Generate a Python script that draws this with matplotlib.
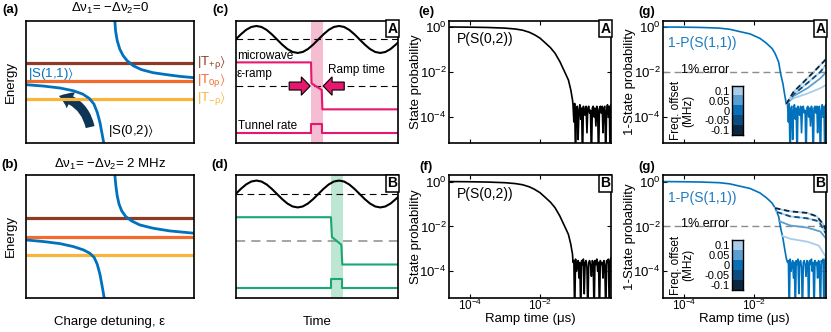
import numpy as np
import matplotlib.pyplot as plt
from matplotlib.colors import ListedColormap
from matplotlib.patches import FancyArrowPatch, FancyArrow
from matplotlib.ticker import NullLocator

plt.rcParams['font.family'] = ['Liberation Sans', 'DejaVu Sans']
plt.rcParams['mathtext.default'] = 'regular'
plt.rcParams['font.size'] = 9
plt.rcParams['axes.linewidth'] = 1.2

# colours
c_blue = '#0072BD'
c_brown = '#8E3B26'
c_orange = '#F26A2C'
c_yellow = '#F9B43A'
c_mag = '#E6176E'
c_pink = '#F6BDD2'
c_green = '#17A873'
c_lgreen = '#BDE6D3'
offset_colors = ['#a9cde8', '#5b9fd1', '#0b6fb5', '#0c4c80', '#0b2740']
offset_labels = ['0.1', '0.05', '0', '-0.05', '-0.1']

# ---- (a),(b) energy levels (box fraction units)
levels_a = [0.652, 0.505, 0.359]
levels_b = [0.648, 0.499, 0.351]
a_up_x = [0.529, 0.533, 0.543, 0.558, 0.578, 0.602, 0.638, 0.687, 0.756, 0.836, 0.915, 1.0]
a_up_y = [1.0, 0.918, 0.837, 0.769, 0.715, 0.674, 0.633, 0.601, 0.576, 0.560, 0.546, 0.535]
a_lo_x = [0.0, 0.103, 0.202, 0.281, 0.337, 0.376, 0.404, 0.424, 0.44, 0.453, 0.463]
a_lo_y = [0.478, 0.467, 0.451, 0.429, 0.402, 0.367, 0.321, 0.253, 0.171, 0.076, 0.0]
b_up_x = [0.529, 0.535, 0.543, 0.554, 0.570, 0.594, 0.628, 0.677, 0.756, 0.855, 1.0]
b_up_y = [1.0, 0.913, 0.831, 0.763, 0.708, 0.662, 0.627, 0.594, 0.567, 0.545, 0.526]
b_lo_x = [0.0, 0.103, 0.202, 0.281, 0.341, 0.38, 0.406, 0.424, 0.44, 0.453, 0.465]
b_lo_y = [0.471, 0.458, 0.441, 0.417, 0.39, 0.362, 0.327, 0.272, 0.191, 0.095, 0.0]

# ---- (c),(d) pulse sketches
sine_x = [0, 0.032, 0.064, 0.096, 0.128, 0.159, 0.191, 0.223, 0.255, 0.287, 0.319,
          0.351, 0.383, 0.414, 0.446, 0.478, 0.51, 0.542, 0.574, 0.606, 0.638, 0.669,
          0.701, 0.733, 0.765, 0.797, 0.829, 0.861, 0.893, 0.924, 0.956, 0.988, 1.0]
sine_y = [0.847, 0.889, 0.925, 0.949, 0.957, 0.949, 0.925, 0.889, 0.847, 0.805, 0.769,
          0.745, 0.737, 0.745, 0.769, 0.805, 0.847, 0.889, 0.925, 0.949, 0.957, 0.949,
          0.925, 0.889, 0.847, 0.805, 0.769, 0.745, 0.737, 0.745, 0.769, 0.805, 0.82]
c_band = [0.465, 0.537]
c_eps_x = [0, 0.465, 0.468, 0.531, 0.535, 1.0]
c_eps_y = [0.66, 0.66, 0.489, 0.435, 0.277, 0.277]
c_tun_x = [0, 0.465, 0.465, 0.535, 0.535, 1.0]
c_tun_y = [0.082, 0.082, 0.158, 0.158, 0.082, 0.082]
d_band = [0.588, 0.665]
d_eps_x = [0, 0.588, 0.594, 0.652, 0.658, 1.0]
d_eps_y = [0.657, 0.657, 0.495, 0.432, 0.27, 0.27]
d_tun_x = [0, 0.588, 0.588, 0.658, 0.658, 1.0]
d_tun_y = [0.076, 0.076, 0.151, 0.151, 0.076, 0.076]

# ---- (e),(f) P(S(0,2)) vs ramp time (us)
ramp_e = [2.5e-5, 1e-4, 3.2e-4, 1e-3, 2e-3, 3.2e-3, 5e-3, 7e-3, 1e-2, 1.4e-2,
          2e-2, 2.7e-2, 3.7e-2, 5.1e-2, 6.5e-2, 7.6e-2, 8.5e-2]
p_s02 = [1.0, 0.98, 0.95, 0.89, 0.81, 0.72, 0.58, 0.45, 0.32, 0.2,
         0.12, 0.068, 0.029, 0.01, 4.4e-3, 1.6e-3, 5.8e-4]
tail_t = [0.088, 0.093, 0.098, 0.104, 0.11, 0.116, 0.123, 0.13, 0.138, 0.146,
          0.155, 0.164, 0.174, 0.184, 0.195, 0.207, 0.22, 0.233, 0.247, 0.262,
          0.278, 0.295, 0.313, 0.332, 0.352, 0.373, 0.396, 0.42, 0.445, 0.472,
          0.5, 0.53, 0.56, 0.6, 0.63, 0.67, 0.71, 0.76, 0.8, 0.85,
          0.9, 0.96, 1.01, 1.07]
tail_e = [3.5e-4, 6e-5, 4e-4, 1e-6, 2.5e-4, 3e-4, 1e-5, 2e-4, 3.5e-4, 8e-5,
          2.5e-4, 1e-6, 3e-4, 2e-4, 1.2e-4, 3e-4, 2e-5, 2.5e-4, 3e-4, 1.5e-4,
          2e-4, 1e-6, 2.5e-4, 3e-4, 1e-4, 2.5e-4, 4e-5, 3e-4, 2e-4, 1e-6,
          2.5e-4, 3e-4, 1.5e-4, 3e-4, 2e-5, 2.5e-4, 3e-4, 1e-6, 2e-4, 3.5e-4,
          1e-4, 3e-4, 1e-6, 3.5e-4]
tail_f = [2.5e-4, 3e-4, 1e-6, 3.5e-4, 1e-4, 2e-4, 3e-4, 5e-5, 2.5e-4, 1e-6,
          3e-4, 2e-4, 3.5e-4, 1e-5, 2.5e-4, 3e-4, 1.5e-4, 1e-6, 2.5e-4, 3e-4,
          2e-4, 6e-5, 3e-4, 2.5e-4, 1e-6, 3e-4, 2e-4, 3.5e-4, 1e-4, 2.5e-4,
          1e-6, 3e-4, 2e-4, 2.5e-4, 5e-5, 3e-4, 2e-4, 1e-6, 3e-4, 2.5e-4,
          3.5e-4, 1e-6, 3e-4, 4e-4]

# ---- (g) 1-P(S(1,1)) vs ramp time, with frequency offsets
ramp_g = [2.5e-5, 1e-4, 3.2e-4, 1e-3, 2e-3, 3.9e-3, 7.6e-3, 1.45e-2, 2.2e-2, 3.2e-2,
          3.9e-2, 4.9e-2, 5.6e-2, 6.5e-2, 7.2e-2, 8.1e-2]
p_s11 = [1.0, 0.98, 0.95, 0.89, 0.79, 0.62, 0.49, 0.31, 0.19, 0.11,
         0.066, 0.028, 8.3e-3, 3e-3, 1.1e-3, 3.8e-4]
# case A
ga_t = [0.081, 0.13, 0.32, 0.75, 1.07]
ga_1 = [3.8e-4, 1.3e-3, 5.2e-3, 2e-2, 3.6e-2]
ga_2 = [3.8e-4, 1e-3, 3.2e-3, 1e-2, 2e-2]
ga_3 = [3.8e-4, 8.5e-4, 1.9e-3, 5.2e-3, 9.3e-3]
ga_4 = [3.8e-4, 6.8e-4, 1.1e-3, 1.9e-3, 2.6e-3]
# case B
gb_1t = [0.039, 0.055, 0.105, 0.316, 0.6, 0.93, 1.07]
gb_1 = [0.066, 0.058, 0.047, 0.04, 0.028, 0.012, 7e-3]
gb_2t = [0.044, 0.105, 0.316, 0.68, 1.07]
gb_2 = [0.044, 0.028, 0.023, 0.017, 5e-3]
gb_3t = [0.052, 0.105, 0.316, 0.76, 1.07]
gb_3 = [0.017, 0.011, 8.9e-3, 5.9e-3, 3e-3]
gb_4t = [0.062, 0.105, 0.316, 0.68, 1.07]
gb_4 = [3.8e-3, 2.8e-3, 2.1e-3, 1.4e-3, 4.5e-4]

fig = plt.figure(figsize=(8.31, 3.32), dpi=100)


def rect(x0, y0, x1, y1):
    return [x0 / 831, 1 - y1 / 332, (x1 - x0) / 831, (y1 - y0) / 332]


def ftext(px, py, s, **kw):
    fig.text(px / 831, 1 - py / 332, s, ha='center', va='center', **kw)


def box_label(ax, s):
    ax.text(0.997, 0.993, s, transform=ax.transAxes, ha='right', va='top',
            fontsize=10, fontweight='bold', zorder=10,
            bbox=dict(boxstyle='square,pad=0.1', fc='white', ec='black', lw=1.1))


def plain(ax):
    ax.set_xlim(0, 1)
    ax.set_ylim(0, 1)
    ax.set_xticks([])
    ax.set_yticks([])


ax_a = fig.add_axes(rect(26, 20.7, 194, 143.3))
ax_b = fig.add_axes(rect(26, 175.3, 194, 297.5))
ax_c = fig.add_axes(rect(235.7, 20.7, 397.7, 143.3))
ax_d = fig.add_axes(rect(235.7, 175.3, 397.7, 297.5))
ax_e = fig.add_axes(rect(449.3, 20.7, 611, 143.3))
ax_f = fig.add_axes(rect(449.3, 175.3, 611, 297.5))
ax_g1 = fig.add_axes(rect(663.3, 20.7, 825.7, 143.3))
ax_g2 = fig.add_axes(rect(663.3, 175.3, 825.7, 297.5))

# (a) and (b)
for ax, lev, ux, uy, lx, ly in [(ax_a, levels_a, a_up_x, a_up_y, a_lo_x, a_lo_y),
                                (ax_b, levels_b, b_up_x, b_up_y, b_lo_x, b_lo_y)]:
    for l, col in zip(lev, [c_brown, c_orange, c_yellow]):
        ax.plot([0, 1], [l, l], color=col, lw=2.3, solid_capstyle='butt')
    ax.plot(ux, uy, color=c_blue, lw=2)
    ax.plot(lx, ly, color=c_blue, lw=2)
    plain(ax)
    ax.set_ylabel('Energy', fontsize=9.5)
    ax.yaxis.set_label_coords(-0.055, 0.5)

ax_a.add_patch(FancyArrowPatch((0.385, 0.11), (0.18, 0.39), connectionstyle='arc3,rad=0.35',
                               arrowstyle='simple,head_length=0.7,head_width=1.0,tail_width=0.5',
                               mutation_scale=13, color='#0e3555', lw=0))
ax_a.text(0.014, 0.571, r'|S(1,1)$\rangle$', color=c_blue, va='center', fontsize=9.5)
ax_a.text(0.489, 0.103, r'|S(0,2)$\rangle$', color='k', va='center', fontsize=9.5)
for l, col, s in zip(levels_a, [c_brown, c_orange, c_yellow],
                     [r'|T$_{+\rho}\rangle$', r'|T$_{0\rho}\rangle$', r'|T$_{-\rho}\rangle$']):
    ax_a.text(1.016, l, s, color=col, va='center', ha='left', fontsize=9.5)
ax_b.set_xlabel('Charge detuning, ε', fontsize=9.5)
ax_b.xaxis.set_label_coords(0.5, -0.2)
ax_b.xaxis.label.set_va('center')
ftext(110, 8, r'Δν$_1$= −Δν$_2$=0', fontsize=9.5)
ftext(110, 164, r'Δν$_1$= −Δν$_2$= 2 MHz', fontsize=9.5)

# (c) and (d)
for ax, band, bcol, col, ex, ey, tx, ty, mid, mcol in [
        (ax_c, c_band, c_pink, c_mag, c_eps_x, c_eps_y, c_tun_x, c_tun_y, 0.467, 'k'),
        (ax_d, d_band, c_lgreen, c_green, d_eps_x, d_eps_y, d_tun_x, d_tun_y, 0.459, '#8c8c8c')]:
    ax.axvspan(band[0], band[1], color=bcol, lw=0)
    ax.axhline(0.847, color='k', ls=(0, (6, 4)), lw=0.8)
    ax.axhline(mid, color=mcol, ls=(0, (6, 4)), lw=0.8 if mcol == 'k' else 1.1)
    ax.plot(sine_x, sine_y, color='k', lw=1.5)
    ax.plot(ex, ey, color=col, lw=1.5)
    ax.plot(tx, ty, color=col, lw=1.5)
    plain(ax)

ax_c.text(0.006, 0.712, 'microwave', va='center', fontsize=8.5)
ax_c.text(0.006, 0.565, 'ε-ramp', va='center', fontsize=8.5)
ax_c.text(0.743, 0.598, 'Ramp time', va='center', ha='center', fontsize=8.5)
ax_c.text(0.012, 0.141, 'Tunnel rate', va='center', fontsize=8.5)
for x0, dx in [(0.33, 0.13), (0.67, -0.13)]:
    ax_c.add_patch(FancyArrow(x0, 0.467, dx, 0, width=0.065, head_width=0.15,
                              head_length=0.055, length_includes_head=True,
                              fc=c_mag, ec='k', lw=0.8, zorder=5))
box_label(ax_c, 'A')
box_label(ax_d, 'B')
ax_d.set_xlabel('Time', fontsize=9.5)
ax_d.xaxis.set_label_coords(0.5, -0.2)
ax_d.xaxis.label.set_va('center')


# log panels
def setup_log(ax, xlabels):
    ax.set_xscale('log')
    ax.set_yscale('log')
    ax.set_xlim(2.57e-5, 1.07)
    ax.set_ylim(6.8e-6, 1.9)
    ax.set_xticks([1e-4, 1e-2])
    ax.set_yticks([1, 1e-2, 1e-4])
    ax.xaxis.set_minor_locator(NullLocator())
    ax.yaxis.set_minor_locator(NullLocator())
    ax.tick_params(direction='in', top=True, right=True, length=3, width=0.8,
                   labelsize=9.5, pad=2)
    ax.tick_params(axis='x', labelsize=8.5, pad=0.5)
    if not xlabels:
        ax.tick_params(labelbottom=False)
    else:
        ax.set_xlabel('Ramp time (μs)', fontsize=9.5)
        ax.xaxis.set_label_coords(0.5, -0.18)
        ax.xaxis.label.set_va('center')


for ax, tail, lab, xl in [(ax_e, tail_e, 'A', False), (ax_f, tail_f, 'B', True)]:
    ax.plot(ramp_e + tail_t, p_s02 + tail, color='k', lw=1.2)
    setup_log(ax, xl)
    ax.set_ylabel('State probability', fontsize=9.5)
    ax.yaxis.set_label_coords(-0.17, 0.5)
    ax.text(0.22, 0.85, 'P(S(0,2))', transform=ax.transAxes, ha='center', va='center',
            fontsize=10)
    box_label(ax, lab)

g_sets = [(ax_g1, tail_e, 'A', False,
           [(ga_t, ga_1), (ga_t, ga_2), (ga_t, ga_3), (ga_t, ga_4)]),
          (ax_g2, tail_f, 'B', True,
           [(gb_1t, gb_1), (gb_2t, gb_2), (gb_3t, gb_3), (gb_4t, gb_4)])]
for ax, tail, lab, xl, offs in g_sets:
    ax.axhline(1e-2, color='#8c8c8c', ls=(0, (5, 3)), lw=1)
    ax.plot(ramp_g + tail_t, p_s11 + tail, color=c_blue, lw=1.2)
    (t1, y1), (t2, y2), (t3, y3), (t4, y4) = offs
    ax.plot(t4, y4, color=offset_colors[0], lw=1.3)
    ax.plot(t3, y3, color=offset_colors[1], lw=1.3)
    ax.plot(t2, y2, color=offset_colors[0], lw=1.3)
    ax.plot(t2, y2, color=offset_colors[3], lw=1.3, ls=(0, (3, 2)))
    ax.plot(t1, y1, color=offset_colors[0], lw=1.3)
    ax.plot(t1, y1, color=offset_colors[4], lw=1.3, ls=(0, (3, 2)))
    setup_log(ax, xl)
    ax.set_ylabel('1-State probability', fontsize=9.5)
    ax.yaxis.set_label_coords(-0.17, 0.5)
    ax.text(0.241, 0.815, '1-P(S(1,1))', transform=ax.transAxes, ha='center',
            va='center', fontsize=10, color='#1f7bc0')
    ax.text(0.257, 0.598, '1% error', transform=ax.transAxes, ha='center',
            va='center', fontsize=9)
    box_label(ax, lab)
    cax = ax.inset_axes([0.425, 0.065, 0.068, 0.405])
    cax.imshow(np.arange(5).reshape(5, 1), cmap=ListedColormap(offset_colors),
               aspect='auto')
    cax.set_xticks([])
    cax.set_yticks(range(5))
    cax.set_yticklabels(offset_labels)
    cax.tick_params(length=0, labelsize=8, pad=2)
    for sp in cax.spines.values():
        sp.set_linewidth(1)
    ax.text(0.115, 0.265, 'Freq. offset\n(MHz)', transform=ax.transAxes, rotation=90,
            ha='center', va='center', fontsize=8.5, linespacing=0.95,
            multialignment='center')

# panel letters
for px, py, s in [(10, 10, '(a)'), (10, 165, '(b)'), (220, 10, '(c)'), (220, 165, '(d)'),
                  (426, 12, '(e)'), (426, 167, '(f)'), (647, 12, '(g)'), (647, 167, '(g)')]:
    ftext(px, py, s, fontsize=9.5, fontweight='bold')

fig.savefig('out.png', dpi=100)
